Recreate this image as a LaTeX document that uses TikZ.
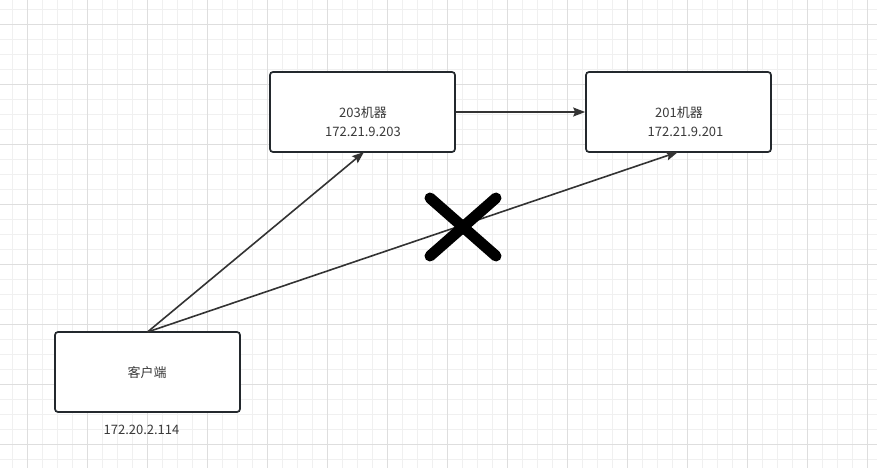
\documentclass[tikz,border=0pt]{standalone}
\usepackage{fontspec}
\setmainfont{Noto Sans CJK SC}
\usetikzlibrary{arrows.meta}
\definecolor{gridminor}{HTML}{F0F0F0}
\definecolor{gridmajor}{HTML}{DEDEDE}
\definecolor{boxline}{HTML}{23282D}
\definecolor{txt}{HTML}{3A3A3A}
\definecolor{arr}{HTML}{333333}
\tikzset{
  machine/.style={draw=boxline, line width=1.7pt, rounded corners=3pt, fill=white,
    minimum width=185pt, minimum height=80pt, inner sep=0pt},
  lbl/.style={text=txt, font=\fontsize{13}{16}\selectfont, inner sep=0pt},
  link/.style={draw=arr, line width=1.6pt, -{Stealth[length=12pt,width=9pt,inset=2pt]}},
  cross/.style={line width=11pt, line cap=round, black}
}
\begin{document}
\begin{tikzpicture}[x=1pt,y=-1pt]
\useasboundingbox (0,0) rectangle (877,468);
\fill[white] (0,0) rectangle (877,468);
% grid
\foreach \i in {0,...,58} {
  \draw[gridminor, line width=0.9pt] ({12.3+15*\i},0) -- ({12.3+15*\i},468);
}
\foreach \j in {0,...,31} {
  \draw[gridminor, line width=0.9pt] (0,{9+15*\j}) -- (877,{9+15*\j});
}
\foreach \i in {0,...,14} {
  \draw[gridmajor, line width=0.9pt] ({27.3+60*\i},0) -- ({27.3+60*\i},468);
}
\foreach \j in {0,...,7} {
  \draw[gridmajor, line width=0.9pt] (0,{24+60*\j}) -- (877,{24+60*\j});
}
% boxes
\node[machine] (m203) at (362.5,112) {};
\node[machine] (m201) at (678.5,112) {};
\node[machine] (client) at (147.5,372) {};
% labels
\node[lbl] (t203a) at (363,113) {203机器};
\node[lbl] (t203b) at (363,132) {172.21.9.203};
\node[lbl] (t201a) at (679,113) {201机器};
\node[lbl] (t201b) at (685.5,132) {172.21.9.201};
\node[lbl] (tcli) at (147,373) {客户端};
\node[lbl] (tip) at (141.5,430) {172.20.2.114};
% anchors
\coordinate (cs) at (147.5,332);
\coordinate (e203) at (364,152);
\coordinate (e201) at (678,152);
% connectors
\draw[link] (m203.east) -- (m201.west);
\draw[link] (cs) -- (e203);
\draw[link] (cs) -- (e201);
% cross
\draw[cross] (430,198) -- (496,256);
\draw[cross] (496,198) -- (430,256);
\end{tikzpicture}
\end{document}
